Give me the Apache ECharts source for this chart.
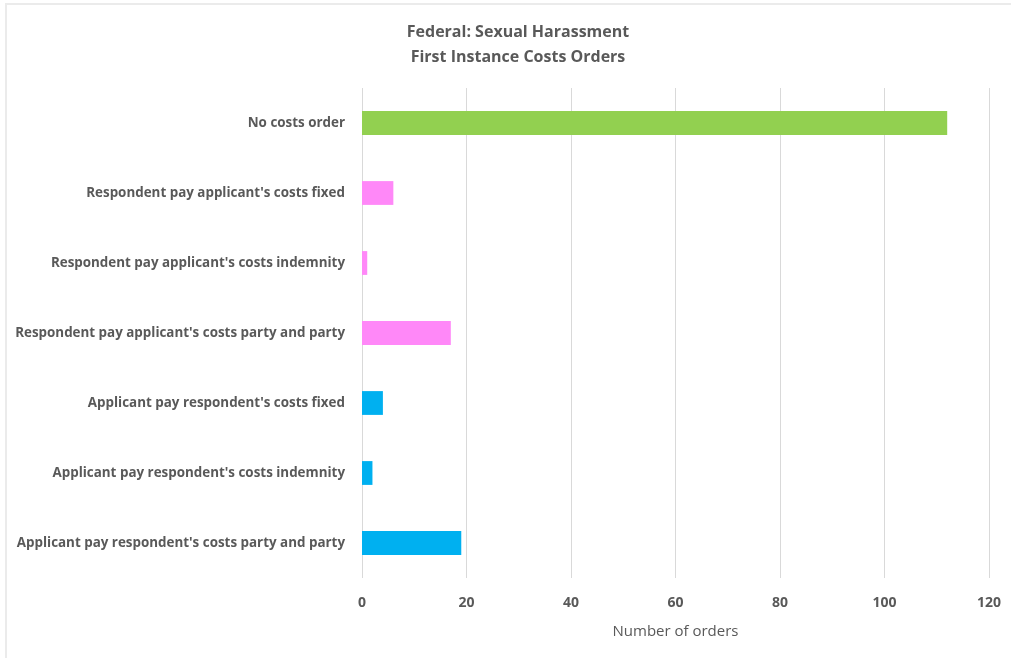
<!DOCTYPE html>
<html><head><meta charset="utf-8">
<script src="https://cdn.jsdelivr.net/npm/echarts@6/dist/echarts.min.js"></script>
<style>
html,body{margin:0;padding:0;background:#fff;}
#frame{position:absolute;left:5px;top:3px;width:1006px;height:655px;border-top:2px solid #ebebeb;border-left:2px solid #ebebeb;box-sizing:border-box;}
#chart{position:absolute;left:0;top:0;width:1011px;height:658px;}
</style></head>
<body>
<div id="frame"></div>
<div id="chart"></div>
<script>
const categories = [
  "Applicant pay respondent's costs party and party",
  "Applicant pay respondent's costs indemnity",
  "Applicant pay respondent's costs fixed",
  "Respondent pay applicant's costs party and party",
  "Respondent pay applicant's costs indemnity",
  "Respondent pay applicant's costs fixed",
  "No costs order"
];
const values = [19, 2, 4, 17, 1, 6, 112];
const barColors = ["#00B0F0","#00B0F0","#00B0F0","#FF88F8","#FF88F8","#FF88F8","#92D050"];
const xTicks = [0, 20, 40, 60, 80, 100, 120];

const chart = echarts.init(document.getElementById('chart'), null, {renderer:'canvas'});
const font = "'Open Sans', 'Liberation Sans', sans-serif";
chart.setOption({
  animation:false,
  backgroundColor:'transparent',
  title:{
    text:'Federal: Sexual Harassment\nFirst Instance Costs Orders',
    left:513, top:15, textAlign:'center',
    textStyle:{fontFamily:font, fontSize:16, fontWeight:'bold', color:'#595959', lineHeight:25}
  },
  grid:{left:362, right:22, top:88, bottom:80},
  xAxis:{
    type:'value', min:xTicks[0], max:xTicks[xTicks.length-1], interval:20,
    name:'Number of orders', nameLocation:'middle', nameGap:46,
    nameTextStyle:{fontFamily:font, fontSize:15, color:'#595959'},
    axisLine:{show:false}, axisTick:{show:false},
    axisLabel:{fontFamily:font, fontSize:14, fontWeight:'bold', color:'#595959', margin:18},
    splitLine:{lineStyle:{color:'#d9d9d9', width:1}}
  },
  yAxis:{
    type:'category', data:categories,
    axisLine:{show:false}, axisTick:{show:false},
    axisLabel:{fontFamily:font, fontSize:13.4, fontWeight:'bold', color:'#595959', margin:17}
  },
  series:[{
    type:'bar', data:values.map((v,i)=>({value:v, itemStyle:{color:barColors[i]}})),
    barWidth:'34%'
  }]
});
</script>
</body></html>
